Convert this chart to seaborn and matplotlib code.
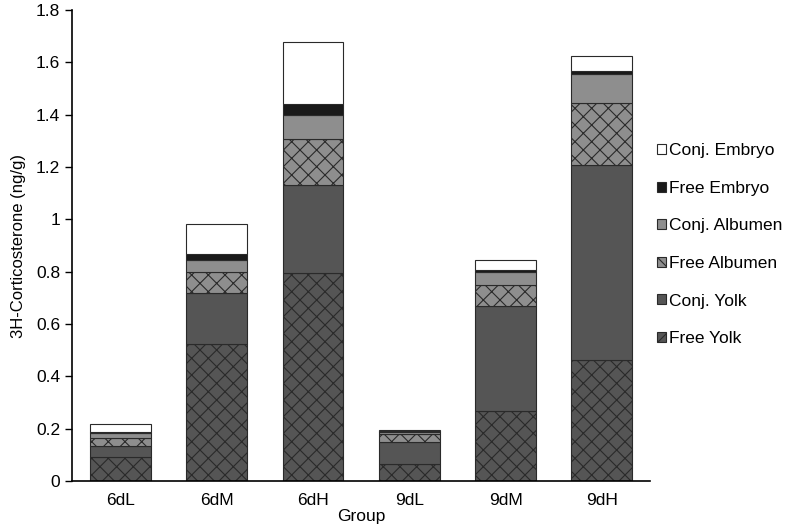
import numpy as np
import pandas as pd
import seaborn as sns
import matplotlib.pyplot as plt
from matplotlib.patches import Patch
from matplotlib.ticker import FuncFormatter

groups = ['6dL', '6dM', '6dH', '9dL', '9dM', '9dH']

# stacked components, bottom to top
free_yolk = [0.092, 0.525, 0.797, 0.065, 0.268, 0.464]
conj_yolk = [0.042, 0.195, 0.333, 0.085, 0.402, 0.743]
free_albumen = [0.031, 0.080, 0.176, 0.030, 0.081, 0.237]
conj_albumen = [0.019, 0.043, 0.092, 0.008, 0.049, 0.111]
free_embryo = [0.005, 0.023, 0.042, 0.004, 0.005, 0.013]
conj_embryo = [0.027, 0.115, 0.238, 0.004, 0.038, 0.056]

layers = [
    ('Free Yolk', free_yolk, '#555555', 'xx'),
    ('Conj. Yolk', conj_yolk, '#555555', None),
    ('Free Albumen', free_albumen, '#8e8e8e', 'xx'),
    ('Conj. Albumen', conj_albumen, '#8e8e8e', None),
    ('Free Embryo', free_embryo, '#1a1a1a', None),
    ('Conj. Embryo', conj_embryo, '#ffffff', None),
]

sns.set_style('white')
plt.rcParams['font.family'] = ['Liberation Sans', 'DejaVu Sans']
plt.rcParams['text.color'] = 'black'
plt.rcParams['axes.labelcolor'] = 'black'
plt.rcParams['xtick.color'] = 'black'
plt.rcParams['ytick.color'] = 'black'
plt.rcParams['hatch.color'] = '#1a1a1a'
plt.rcParams['hatch.linewidth'] = 0.8

fig = plt.figure(figsize=(7.95, 5.32), dpi=100)
ax = fig.add_axes([0.0906, 0.0959, 0.727, 0.885])

bottom = np.zeros(len(groups))
handles = []
for name, vals, col, hatch in layers:
    df = pd.DataFrame({'Group': groups, 'val': vals})
    sns.barplot(data=df, x='Group', y='val', color=col, saturation=1,
                width=0.63, errorbar=None, bottom=bottom.copy(),
                edgecolor='#2a2a2a', linewidth=0.8, hatch=hatch, ax=ax)
    bottom += np.array(vals)
    handles.append(Patch(facecolor=col, edgecolor='#2a2a2a', linewidth=0.8,
                         hatch=hatch, label=name))

ax.set_ylim(0, 1.8)
ax.set_yticks(np.arange(0, 1.81, 0.2))
ax.yaxis.set_major_formatter(FuncFormatter(lambda v, p: '{:g}'.format(round(v, 1))))
ax.set_xlim(-0.5, 5.5)
ax.set_xlabel('Group', fontsize=12.5, labelpad=1)
ax.set_ylabel('3H-Corticosterone (ng/g)', fontsize=12, labelpad=7)
ax.tick_params(axis='both', labelsize=12.5)
ax.tick_params(axis='y', which='major', left=True, length=5, width=1, color='black', direction='out')
ax.tick_params(axis='x', bottom=False, pad=5)
for s in ['top', 'right']:
    ax.spines[s].set_visible(False)
for s in ['left', 'bottom']:
    ax.spines[s].set_color('black')
    ax.spines[s].set_linewidth(1.2)

fig.legend(handles=handles[::-1], loc='center left', bbox_to_anchor=(0.807, 0.54),
           frameon=False, fontsize=12.5, handlelength=0.5, handleheight=0.5,
           handletextpad=0.2, labelspacing=1.3)

fig.savefig('out.png', dpi=100)
